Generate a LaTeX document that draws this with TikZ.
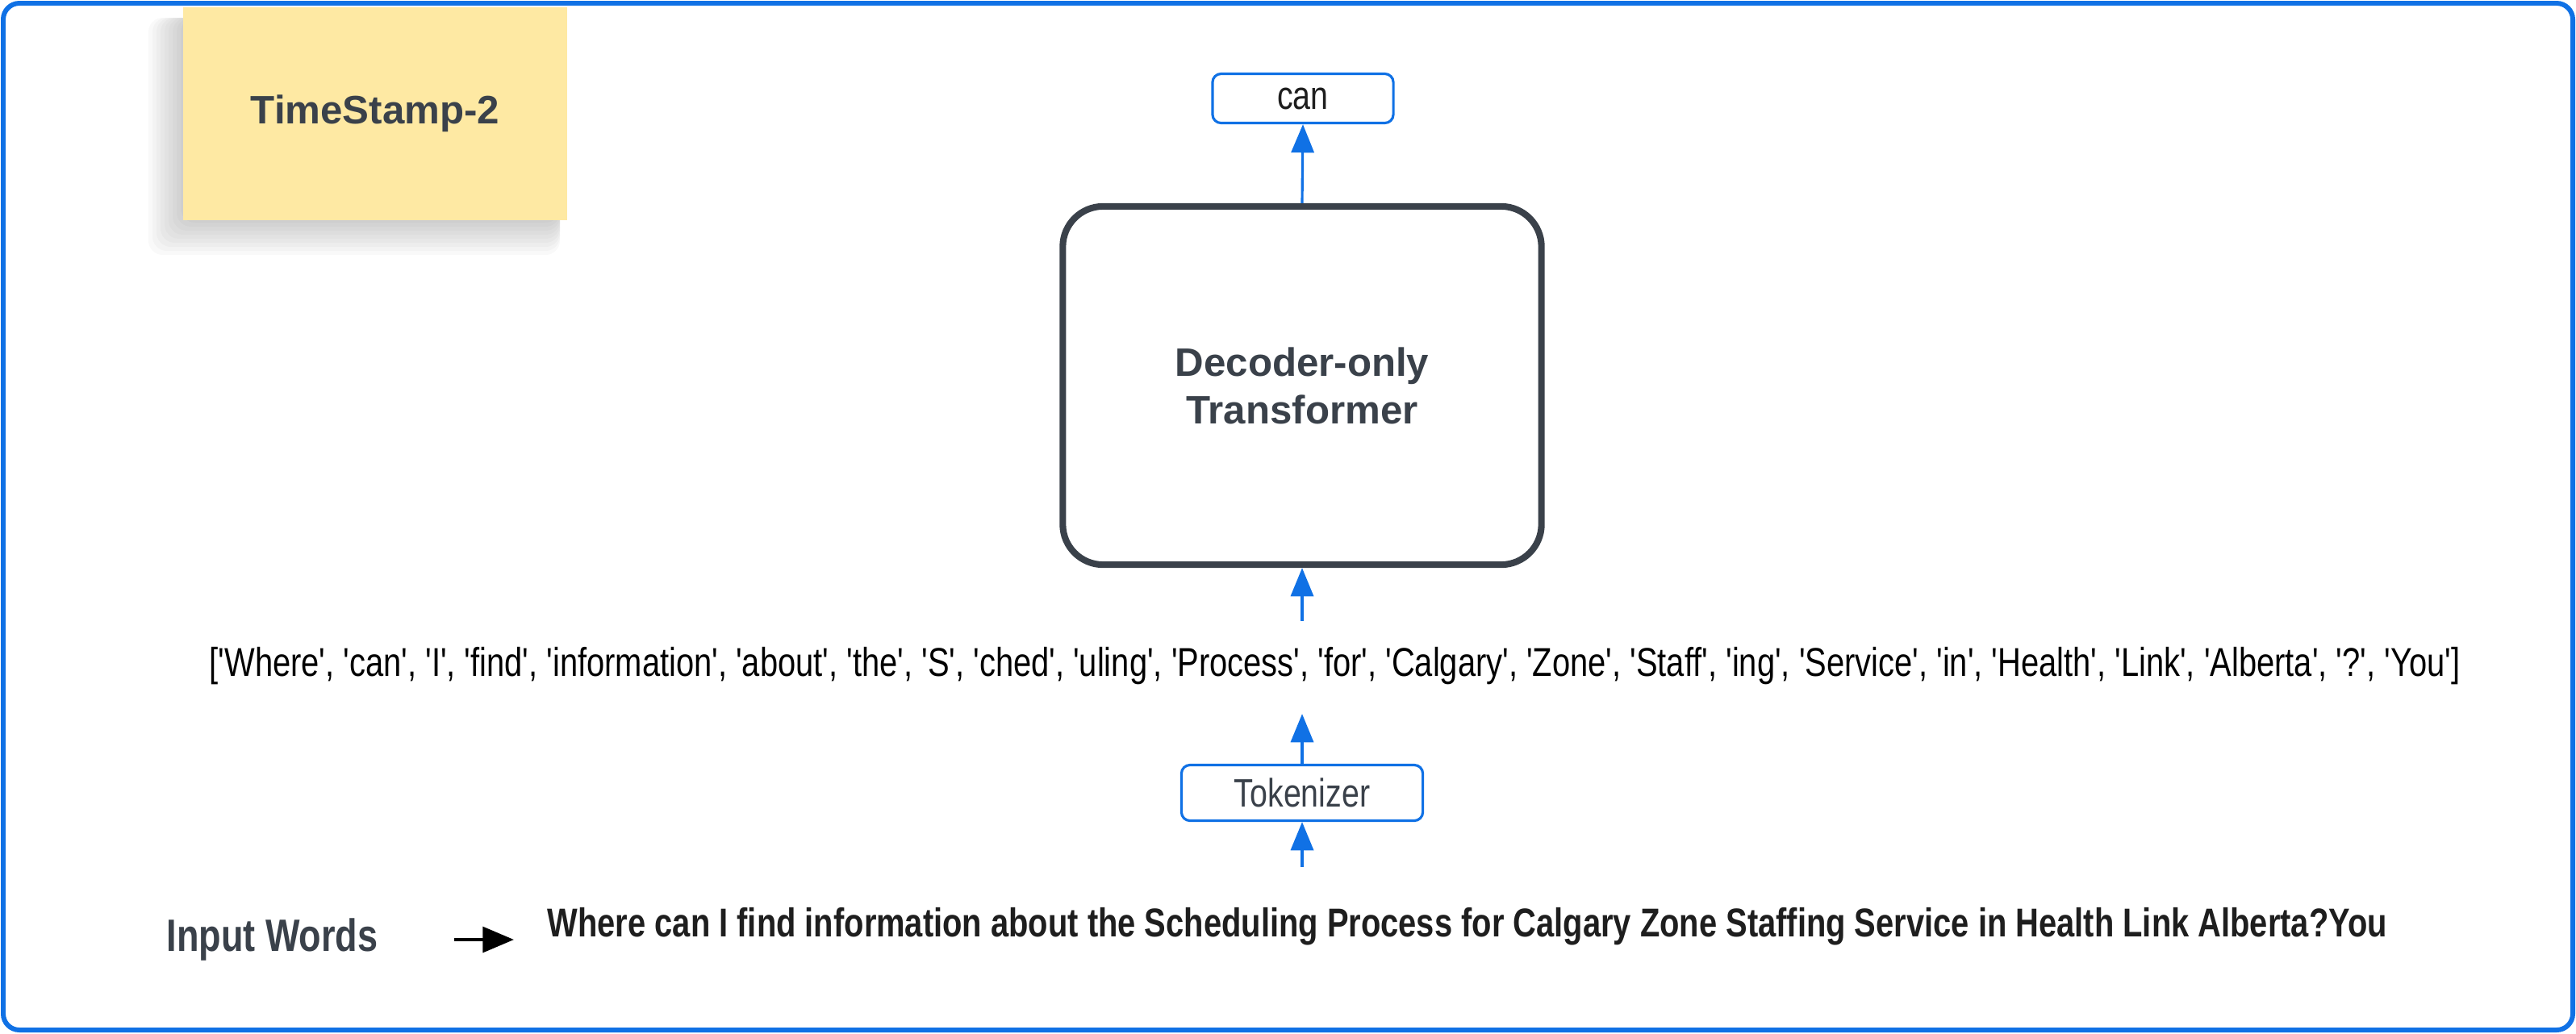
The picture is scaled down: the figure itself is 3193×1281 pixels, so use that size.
\documentclass[tikz,border=0pt]{standalone}
\usepackage{fontspec}
\setmainfont{Liberation Sans}
\newfontfamily\narrowfont{Liberation Sans}[FakeStretch=0.8,Ligatures=TeXOff]
\usetikzlibrary{calc,positioning,arrows.meta}
\definecolor{lucidblue}{HTML}{1071E5}
\definecolor{slate}{HTML}{3A414A}
\definecolor{notey}{HTML}{FEE9A3}
\definecolor{inkblack}{HTML}{1E1E1E}
\newcommand{\tk}[1]{'#1'}

\begin{document}
\begin{tikzpicture}[x=0.01cm,y=-0.01cm,
    wordbox/.style={draw=lucidblue,line width=0.9pt,rounded corners=3pt,
        font=\narrowfont\fontsize{14}{17}\selectfont},
    flow/.style={-{Triangle[length=10pt,width=8pt]},lucidblue,line width=0.9pt},
    pointer/.style={-{Triangle[length=11pt,width=9pt]},black,line width=1.2pt}]
        \useasboundingbox (0,0) rectangle (3193,1281);
        \draw[lucidblue,line width=1.7pt,rounded corners=0.2cm] (4,4) rectangle (3189,1277);

        % sticky note with its shadow
        \foreach \k in {1,...,9}
        {
            \fill[black,opacity=0.022,rounded corners=5pt] (229-5*\k,22) rectangle (694,271+5*\k);
        };
        \node[fill=notey,minimum width=4.75cm,minimum height=2.63cm,
              font=\bfseries\fontsize{14}{17}\selectfont,text=slate] (stamp) at (465,141) {TimeStamp-2};

        \node[draw=slate,line width=2.3pt,rounded corners=0.5cm,minimum width=5.93cm,minimum height=4.44cm,
              align=center,text=slate,font=\bfseries\fontsize{14}{16.8}\selectfont] (decoder) at (1614,478)
              {Decoder-only\\Transformer};
        \node[wordbox,text=inkblack,minimum width=2.24cm,minimum height=0.61cm] (can) at (1615,122) {can};
        \node[anchor=west,inner xsep=0,inner ysep=9pt,text=black,
              font=\narrowfont\fontsize{14.18}{17}\selectfont] (tokens) at (259,826)
              {[\tk{Where}, \tk{can}, \tk{I}, \tk{find}, \tk{information}, \tk{about}, \tk{the}, \tk{S}, \tk{ched}, \tk{uling}, \tk{Process}, \tk{for}, \tk{Calgary}, \tk{Zone}, \tk{Staff}, \tk{ing}, \tk{Service}, \tk{in}, \tk{Health}, \tk{Link}, \tk{Alberta}, \tk{?}, \tk{You}]};
        \node[wordbox,text=slate,minimum width=2.99cm,minimum height=0.69cm] (tok) at (1614,983) {Tokenizer};
        \coordinate (feed) at (1614,1075);

        \node[anchor=west,inner sep=0,text=slate,font=\narrowfont\bfseries\fontsize{16}{19}\selectfont] (words) at (206,1165) {Input Words};
        \node[anchor=west,inner sep=0,text=inkblack,font=\narrowfont\bfseries\fontsize{14.18}{17}\selectfont] (sentence) at (678,1149)
              {Where can I find information about the Scheduling Process for Calgary Zone Staffing Service in Health Link Alberta?You};

        \draw[flow] (decoder.north) -- (can.south);
        \draw[flow] (tokens.north -| decoder.south) -- (decoder.south);
        \draw[flow,shorten >=1pt] (tok.north) -- (tokens.south -| tok.north);
        \draw[flow] (feed) -- (tok.south);
        \draw[pointer,shorten <=0.94cm,shorten >=0.41cm] (words.east) -- (words.east -| sentence.west);
\end{tikzpicture}
\end{document}
